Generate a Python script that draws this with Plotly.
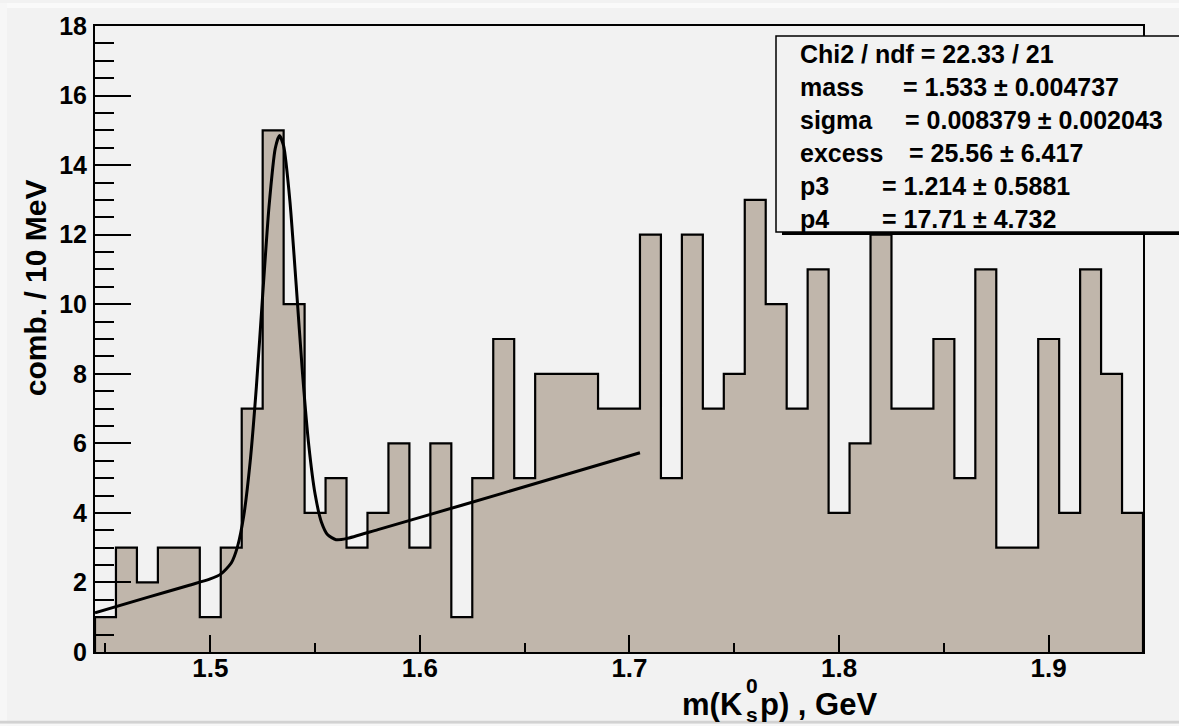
import plotly.graph_objects as go

# ---------------- data ----------------
BIN_START = 1.445
BIN_WIDTH = 0.01
COUNTS = [1, 3, 2, 3, 3, 1, 3, 7, 15, 10,
          4, 5, 3, 4, 6, 3, 6, 1, 5, 9,
          5, 8, 8, 8, 7, 7, 12, 5, 12, 7,
          8, 13, 10, 7, 11, 4, 6, 12, 7, 7,
          9, 5, 11, 3, 3, 9, 4, 11, 8, 4]

# fit curve, points
FIT_X = [1.445, 1.47, 1.49, 1.50, 1.505, 1.510, 1.513, 1.516, 1.519, 1.522,
         1.525, 1.528, 1.531, 1.533, 1.535, 1.538, 1.541, 1.544, 1.547, 1.550,
         1.553, 1.556, 1.560, 1.565, 1.58, 1.62, 1.66, 1.705]
FIT_Y = [1.13, 1.57, 1.92, 2.10, 2.24, 2.56, 3.03, 3.93, 5.45, 7.63,
         10.26, 12.79, 14.48, 14.85, 14.55, 12.96, 10.54, 8.02, 5.94, 4.54,
         3.74, 3.37, 3.23, 3.26, 3.52, 4.22, 4.93, 5.73]

STATS_LABELS = ["mass", "sigma", "excess", "p3", "p4"]
STATS_VALUES = ["= 1.533 \u00b1 0.004737", "= 0.008379 \u00b1 0.002043",
                "= 25.56 \u00b1 6.417", "= 1.214 \u00b1 0.5881", "= 17.71 \u00b1 4.732"]
STATS_HEADER = "Chi2 / ndf = 22.33 / 21"

X_RANGE = [1.445, 1.945]
Y_RANGE = [0, 18]

# ---------------- layout geometry (pixels) ----------------
WIDTH, HEIGHT = 1179, 726
L, R_EDGE, T, B_EDGE = 95, 1143, 23, 652
PW, PH = R_EDGE - L, B_EDGE - T

def px(x):
    return (x - L) / PW

def py(y):
    return (B_EDGE - y) / PH

BG = "#f2f2f2"
FILL = "#c0b6ab"
FONT = "Liberation Sans, Arial, sans-serif"

edges = [BIN_START + i * BIN_WIDTH for i in range(len(COUNTS) + 1)]
step_x = [edges[0]] + edges + [edges[-1]]
step_y = [0] + COUNTS + [COUNTS[-1], 0]

fig = go.Figure()
fig.add_trace(go.Scatter(
    x=step_x, y=step_y, mode="lines", line=dict(shape="hv", color="black", width=2.2),
    fill="tozeroy", fillcolor=FILL, hoverinfo="skip", showlegend=False))
fig.add_trace(go.Scatter(
    x=FIT_X, y=FIT_Y, mode="lines", line=dict(shape="spline", smoothing=0.6, color="black", width=3),
    hoverinfo="skip", showlegend=False))

shapes = []
# page edge tints
shapes.append(dict(type="rect", xref="paper", yref="paper", x0=px(0), x1=px(WIDTH), y0=py(0), y1=py(5),
                   fillcolor="#fafafa", line=dict(width=0), layer="below"))
shapes.append(dict(type="rect", xref="paper", yref="paper", x0=px(0), x1=px(7), y0=py(0), y1=py(HEIGHT),
                   fillcolor="#f7f7f7", line=dict(width=0), layer="below"))
shapes.append(dict(type="rect", xref="paper", yref="paper", x0=px(0), x1=px(WIDTH), y0=py(721), y1=py(724),
                   fillcolor="#d2d2d2", line=dict(width=0), layer="below"))
shapes.append(dict(type="rect", xref="paper", yref="paper", x0=px(0), x1=px(WIDTH), y0=py(724), y1=py(HEIGHT),
                   fillcolor="#f8f8f8", line=dict(width=0), layer="below"))
# stats box shadow + box
shapes.append(dict(type="rect", xref="paper", yref="paper", x0=px(782), x1=px(1200), y0=py(233), y1=py(37),
                   fillcolor="black", line=dict(width=0), layer="above"))
shapes.append(dict(type="rect", xref="paper", yref="paper", x0=px(776), x1=px(1200), y0=py(230), y1=py(33),
                   fillcolor=BG, line=dict(color="black", width=1.5), layer="above"))

ann = []
SF = 25
line_y = [51.5, 84, 117, 150.5, 183.5, 216.5]
ann.append(dict(text=STATS_HEADER, x=px(798), y=py(line_y[0]), xanchor="left", yanchor="middle"))
eq_x = [903, 905, 909, 881.5, 881.5]
for i, (lab, val) in enumerate(zip(STATS_LABELS, STATS_VALUES)):
    ann.append(dict(text=lab, x=px(798), y=py(line_y[i + 1]), xanchor="left", yanchor="middle"))
    ann.append(dict(text=val, x=px(eq_x[i] - 2), y=py(line_y[i + 1]), xanchor="left", yanchor="middle"))
for a in ann:
    a.update(xref="paper", yref="paper", showarrow=False,
             font=dict(family=FONT, size=SF, color="black", weight="bold"))

# axis titles
title_font = dict(family=FONT, size=31, color="black", weight="bold")
small_font = dict(family=FONT, size=21, color="black", weight="bold")
ann.append(dict(text="m(K", x=px(745), y=py(705), xanchor="right", yanchor="middle", font=title_font))
ann.append(dict(text="p) , GeV", x=px(758), y=py(705), xanchor="left", yanchor="middle", font=title_font))
ann.append(dict(text="s", x=px(744), y=py(715), xanchor="left", yanchor="middle", font=small_font))
ann.append(dict(text="0", x=px(744), y=py(686), xanchor="left", yanchor="middle", font=small_font))
ann.append(dict(text="comb. / 10 MeV", x=px(35), y=py(286.5), xanchor="center", yanchor="middle",
                textangle=-90, font=dict(family=FONT, size=30, color="black", weight="bold")))
for a in ann[-5:]:
    a.update(xref="paper", yref="paper", showarrow=False)

fig.update_layout(
    width=WIDTH, height=HEIGHT,
    margin=dict(l=L, r=WIDTH - R_EDGE, t=T, b=HEIGHT - B_EDGE, pad=0),
    paper_bgcolor=BG, plot_bgcolor=BG,
    shapes=shapes, annotations=ann, showlegend=False,
)
fig.update_xaxes(
    range=X_RANGE, showgrid=False, zeroline=False,
    showline=True, linecolor="black", linewidth=2, mirror=True,
    tick0=1.4, dtick=0.1, ticks="inside", ticklen=17, tickwidth=2, tickcolor="black",
    minor=dict(tick0=1.4, dtick=0.05, ticks="inside", ticklen=9, tickwidth=2, tickcolor="black"),
    tickfont=dict(family=FONT, size=26, color="black", weight="bold"),
    ticklabelstandoff=-8,
)
fig.update_yaxes(
    range=Y_RANGE, showgrid=False, zeroline=False,
    showline=True, linecolor="black", linewidth=2, mirror=True,
    tick0=0, dtick=2, ticks="inside", ticklen=36, tickwidth=2, tickcolor="black",
    minor=dict(tick0=0, dtick=0.5, ticks="inside", ticklen=19, tickwidth=2, tickcolor="black"),
    tickfont=dict(family=FONT, size=25, color="black", weight="bold"),
    ticklabelstandoff=1,
)

fig.write_html("out.html")
